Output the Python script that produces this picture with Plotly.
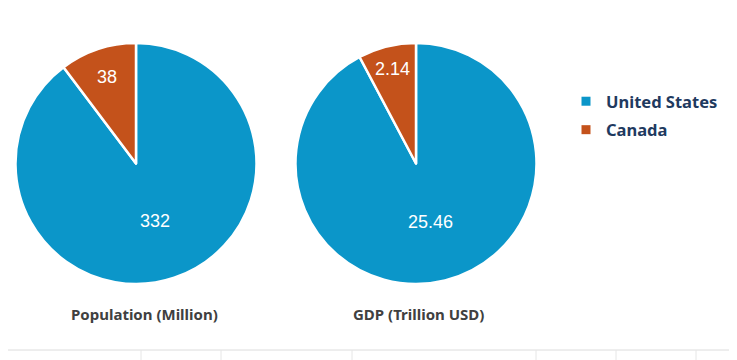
import plotly.graph_objects as go

countries = ["United States", "Canada"]
population = [332, 38]
gdp = [25.46, 2.14]
titles = ["Population (Million)", "GDP (Trillion USD)"]
colors = ["#0b96c9", "#c4521b"]

W, H = 737, 360
OFF = 8  # page body margin

def fx(x):
    return (x - OFF) / W

def fy(y):
    return (H - (y - OFF)) / H

fig = go.Figure()

for vals, (x0, x1) in [(population, (15, 257)), (gdp, (295, 537))]:
    fig.add_trace(go.Pie(
        labels=countries, values=vals, sort=False, direction="clockwise", rotation=0,
        marker=dict(colors=colors, line=dict(color="white", width=2.5)),
        textinfo="value", textposition="inside", insidetextorientation="horizontal",
        textfont=dict(family="Liberation Sans, Arial", size=18, color="white"),
        showlegend=False, hoverinfo="label+value",
        domain=dict(x=[fx(x0), fx(x1)], y=[fy(284), fy(43)]),
    ))

# legend entries
for i, c in enumerate(countries):
    fig.add_trace(go.Scatter(
        x=[None], y=[None], mode="markers", name=c, legendgroup=c,
        marker=dict(symbol="square", size=9, color=colors[i]),
        showlegend=True,
    ))

for t, xc in zip(titles, [144, 418]):
    fig.add_annotation(text="<b>" + t + "</b>", x=fx(xc), y=fy(314), xref="paper", yref="paper",
                       showarrow=False, xanchor="center", yanchor="middle",
                       font=dict(family="Noto Sans", size=15, color="#404040"))

shapes = [dict(type="line", xref="paper", yref="paper", x0=0, x1=1, y0=fy(350), y1=fy(350),
               line=dict(color="#dcdcdc", width=1))]
for xt in [141, 221, 352, 536, 616, 696]:
    shapes.append(dict(type="line", xref="paper", yref="paper", x0=fx(xt), x1=fx(xt),
                       y0=fy(362), y1=fy(350), line=dict(color="#e6e6e6", width=1)))

fig.update_layout(
    width=W, height=H, margin=dict(l=0, r=0, t=0, b=0),
    paper_bgcolor="white", plot_bgcolor="white",
    xaxis=dict(visible=False), yaxis=dict(visible=False),
    shapes=shapes,
    legend=dict(x=fx(566), y=fy(84), xanchor="left", yanchor="top",
                font=dict(family="Noto Sans", size=16.5, color="#1f3a5f", weight="bold"),
                tracegroupgap=4, itemwidth=30, bgcolor="rgba(0,0,0,0)"),
)

fig.write_html("out.html")
